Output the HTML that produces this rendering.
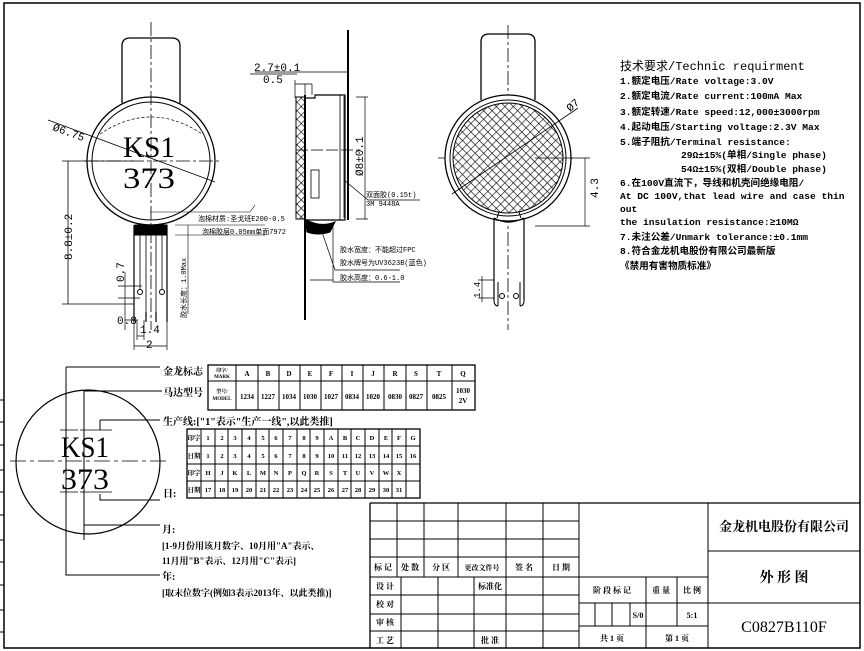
<!DOCTYPE html>
<html><head><meta charset="utf-8"><style>
html,body{margin:0;padding:0;background:#fff}
svg{display:block}
text{font-family:"Liberation Serif","Noto Serif CJK SC","Noto Sans CJK SC",serif;fill:#000}
.m text{font-family:"Liberation Mono","Noto Sans CJK SC",monospace}
.c text,text.c{font-family:"Liberation Serif","Noto Serif CJK SC",serif;font-weight:bold}
.s text{font-family:"Liberation Serif",serif}
</style></head><body>
<svg width="864" height="651" viewBox="0 0 864 651" xmlns="http://www.w3.org/2000/svg">
<defs>
<pattern id="hx" width="6" height="6" patternUnits="userSpaceOnUse" patternTransform="rotate(45)">
<path d="M0 0H6M0 0V6" stroke="#000" stroke-width="1.2"/>
</pattern>
</defs>
<g fill="none" stroke="#000" stroke-width="1">
<path d="M4 3H860V648H4Z" stroke-width="1.5"/>
<path d="M0 400H4M0 422H4M0 445H4M0 470H4M0 492H4M0 515H4M0 540H4M0 562H4M0 585H4M0 610H4M0 632H4"/>

<path d="M151 22V330" stroke-dasharray="14 3 3 3" stroke-width="0.8"/>
<path d="M84 161H222" stroke-dasharray="14 3 3 3" stroke-width="0.8"/>
<path d="M122 103V46Q122 38 130 38H172Q180 38 180 46V103" stroke-width="1.3"/>
<circle cx="151" cy="161" r="64" stroke-width="1.3"/>
<circle cx="151" cy="161" r="59" stroke-width="1"/>
<path d="M100 134Q151 100 202 134" stroke-dasharray="3 2" stroke-width="0.7"/>
<path d="M48 120L215 182" stroke-width="0.8"/>
<path d="M134 225V312M167 225V312" stroke-width="1.2"/>
<rect x="135" y="225" width="32" height="10" fill="#000"/>
<path d="M140 235V290M162 235V290M146 235V318M156 235V318" stroke-width="0.8"/>
<circle cx="140" cy="292" r="2.5"/><circle cx="162" cy="292" r="2.5"/>
<path d="M134 312V322M146 312V322M156 312V322M167 312V322" stroke-width="1.2"/>
<path d="M68 161V304M62 161H134M62 304H134" stroke-width="0.8"/>
<path d="M118 286H142M118 298H140M125 272V330M125 320H138M137 320V340M144 320V340M137 336H144" stroke-width="0.7"/>
<path d="M134 322V350M167 322V350M134 346H167" stroke-width="0.7"/>
<path d="M175 225H265M175 235H265M188 225V314" stroke-width="0.6"/>
<path d="M255 205L250 212H150" stroke-width="0.6"/>

<path d="M305 95V320" stroke-width="2"/>
<path d="M348 30V220" stroke-width="2"/>
<rect x="296" y="97" width="9" height="122" fill="url(#hx)" stroke-width="1"/>
<path d="M305 98H315V95H345V220H305" stroke-width="1.2"/>
<path d="M340 95V220M344 96V218" stroke-width="0.8"/>
<rect x="311" y="170" width="8" height="28" stroke-width="0.8"/>
<path d="M296 150H360" stroke-dasharray="12 3" stroke-width="0.8"/>
<path d="M305 219Q320 228 335 222L330 232Q318 236 307 232Z" fill="#000"/>
<path d="M255 72H348M295 84H312M295 80V98M305 84V95M312 84V95M348 72V95M250 74H297" stroke-width="0.7"/>
<path d="M356 97H368M356 219H368M365 97V219M344 180L368 200H420" stroke-width="0.7"/>
<path d="M322 232L335 270H400M333 226V282M310 280H333M333 282H400" stroke-width="0.7"/>

<path d="M508 25V330" stroke-dasharray="14 3 3 3" stroke-width="0.8"/>
<path d="M438 158H575" stroke-dasharray="14 3 3 3" stroke-width="0.8"/>
<path d="M481 100V42Q481 34 489 34H527Q535 34 535 42V100" stroke-width="1.3"/>
<circle cx="508" cy="158" r="63" stroke-width="1.3" fill="#fff"/>
<circle cx="508" cy="158" r="58" stroke-width="1"/>
<circle cx="508" cy="158" r="55" fill="url(#hx)" stroke-width="1"/>
<path d="M452 194L578 108" stroke-width="0.8"/>
<path d="M494 218V300M524 218V300M494 218Q508 226 524 218" stroke-width="1.2"/>
<path d="M497 218L499 212M521 218L519 212"/>
<path d="M498 282V306M520 282V306M494 300Q494 306 498 306M524 300Q524 306 520 306"/>
<circle cx="502" cy="296" r="2.5"/><circle cx="516" cy="296" r="2.5"/>
<path d="M535 158H590M535 226H590M585 158V226" stroke-width="0.7"/>
<path d="M478 280H494M478 298H494M482 276V302" stroke-width="0.7"/>

<circle cx="88" cy="462" r="72" stroke-width="1.2"/>
<path d="M10 461H168" stroke-dasharray="16 4 4 4" stroke-width="0.8"/>
<path d="M66 367H160M66 367V575H160" stroke-width="1"/>
<path d="M84 391H162M84 391V540M84 525H160" stroke-width="1"/>
<path d="M100 420V430M100 420H160M100 494V500H160" stroke-width="1"/>
<path d="M60 430H78M80 430H98M98 430H112M60 492H78M80 492H98M98 492H112" stroke-width="0.8"/>

<rect x="208" y="365" width="267" height="45" stroke-width="1.3"/>
<path d="M208 381H475"/>
<path d="M236 365V410M258 365V410M279 365V410M300 365V410M321 365V410M342 365V410M363 365V410M384 365V410M406 365V410M427 365V410M452 365V410"/>

<rect x="187" y="429" width="233" height="69" stroke-width="1.3"/>
<path d="M187 446H420M187 464H420M187 481H420"/>
<path d="M201 429V498M215 429V498M228 429V498M242 429V498M256 429V498M269 429V498M283 429V498M297 429V498M310 429V498M324 429V498M338 429V498M351 429V498M365 429V498M379 429V498M392 429V498M406 429V498"/>

<path d="M370 503H860M370 503V648" stroke-width="1.3"/>
<path d="M370 521H579M370 539H579M370 557H579M370 577H708M370 595H579M370 614H579M370 631H579M708 551H860M708 603H860M579 603H708M579 626H708"/>
<path d="M397 503V577M424 503V577M458 503V577M506 503V648M543 503V648M579 503V648M708 503V648" stroke-width="1"/>
<path d="M401 577V648M438 577V648M474 577V648"/>
<path d="M646 577V648M677 577V626M595 603V626M612 603V626M630 603V626"/>
</g>

<g class="s" font-size="30">
<text x="123" y="157" textLength="52" lengthAdjust="spacingAndGlyphs">KS1</text>
<text x="123" y="188" textLength="52" lengthAdjust="spacingAndGlyphs">373</text>
<text x="61" y="457" textLength="48" lengthAdjust="spacingAndGlyphs">KS1</text>
<text x="61" y="489" textLength="48" lengthAdjust="spacingAndGlyphs">373</text>
</g>

<g font-size="11" class="m">
<text x="52" y="130" transform="rotate(20 52 130)">Ø6.75</text>
<text x="72" y="260" transform="rotate(-90 72 260)">8.8±0.2</text>
<text x="124" y="282" transform="rotate(-90 124 282)">0.7</text>
<text x="117" y="324">0.8</text>
<text x="140" y="333">1.4</text>
<text x="146" y="348">2</text>
<text x="254" y="71">2.7±0.1</text>
<text x="263" y="83">0.5</text>
<text x="363" y="176" transform="rotate(-90 363 176)">Ø8±0.1</text>
<text x="570" y="112" transform="rotate(-40 570 112)">Ø7</text>
<text x="598" y="198" transform="rotate(-90 598 198)">4.3</text>
<text x="480" y="298" transform="rotate(-90 480 298)" font-size="9">1.4</text>
</g>
<g font-size="7" class="m">
<text x="198" y="221">泡棉材质:圣戈班E200-0.5</text>
<text x="202" y="234">泡棉胶层0.05mm单面7972</text>
<text x="186" y="318" transform="rotate(-90 186 318)">胶水长度：1.0Max</text>
<text x="366" y="197">双面胶(0.15t)</text>
<text x="366" y="206">3M 9448A</text>
<text x="340" y="252">胶水宽度：不能超过FPC</text>
<text x="340" y="265">胶水牌号为UV3623B(蓝色)</text>
<text x="340" y="280">胶水高度：0.6-1.0</text>
</g>

<g font-size="9.6" class="m" font-weight="bold">
<text x="620" y="70" font-size="12" font-weight="normal">技术要求/Technic requirment</text>
<text x="620" y="84">1.额定电压/Rate voltage:3.0V</text>
<text x="620" y="99">2.额定电流/Rate current:100mA Max</text>
<text x="620" y="115">3.额定转速/Rate speed:12,000±3000rpm</text>
<text x="620" y="130">4.起动电压/Starting voltage:2.3V Max</text>
<text x="620" y="145">5.端子阻抗/Terminal resistance:</text>
<text x="681" y="158">29Ω±15%(单相/Single phase)</text>
<text x="681" y="172">54Ω±15%(双相/Double phase)</text>
<text x="620" y="186">6.在100V直流下，导线和机壳间绝缘电阻/</text>
<text x="620" y="199">At DC 100V,that lead wire and case thin</text>
<text x="620" y="212">out</text>
<text x="620" y="225">the insulation resistance:≥10MΩ</text>
<text x="620" y="240">7.未注公差/Unmark tolerance:±0.1mm</text>
<text x="620" y="254">8.符合金龙机电股份有限公司最新版</text>
<text x="620" y="269">《禁用有害物质标准》</text>
</g>

<g font-size="10" class="c">
<text x="163" y="375">金龙标志</text>
<text x="163" y="396">马达型号</text>
<text x="163" y="425">生产线:["1"表示"生产一线",以此类推]</text>
<text x="163" y="497">日:</text>
<text x="162" y="533">月:</text>
<text x="162" y="549" font-size="9">[1-9月份用该月数字、10月用"A"表示、</text>
<text x="162" y="564" font-size="9">11月用"B"表示、12月用"C"表示]</text>
<text x="162" y="580">年:</text>
<text x="162" y="596" font-size="9">[取末位数字(例如3表示2013年、以此类推)]</text>
</g>
<g font-size="7" class="c" text-anchor="middle">
<text x="222" y="372" font-size="5">印字/</text><text x="222" y="378" font-size="5">MARK</text>
<text x="222" y="393" font-size="5">型号/</text><text x="222" y="400" font-size="5">MODEL</text>
<text x="247" y="376">A</text><text x="268" y="376">B</text><text x="289" y="376">D</text><text x="310" y="376">E</text><text x="331" y="376">F</text><text x="352" y="376">I</text><text x="373" y="376">J</text><text x="395" y="376">R</text><text x="416" y="376">S</text><text x="439" y="376">T</text><text x="463" y="376">Q</text>
<text x="247" y="399" font-weight="normal">1234</text><text x="268" y="399" font-weight="normal">1227</text><text x="289" y="399" font-weight="normal">1034</text><text x="310" y="399" font-weight="normal">1030</text><text x="331" y="399" font-weight="normal">1027</text><text x="352" y="399" font-weight="normal">0834</text><text x="373" y="399" font-weight="normal">1020</text><text x="395" y="399" font-weight="normal">0830</text><text x="416" y="399" font-weight="normal">0827</text><text x="439" y="399" font-weight="normal">0825</text>
<text x="463" y="393">1030</text><text x="463" y="403">2V</text>
</g>
<g font-size="6.5" class="c" text-anchor="middle">
<text x="194" y="440">印字</text><text x="194" y="458">日期</text><text x="194" y="475">印字</text><text x="194" y="492">日期</text>
<text x="208" y="440">1</text><text x="222" y="440">2</text><text x="235" y="440">3</text><text x="249" y="440">4</text><text x="263" y="440">5</text><text x="276" y="440">6</text><text x="290" y="440">7</text><text x="304" y="440">8</text><text x="317" y="440">9</text><text x="331" y="440">A</text><text x="345" y="440">B</text><text x="358" y="440">C</text><text x="372" y="440">D</text><text x="386" y="440">E</text><text x="399" y="440">F</text><text x="413" y="440">G</text>
<text x="208" y="458">1</text><text x="222" y="458">2</text><text x="235" y="458">3</text><text x="249" y="458">4</text><text x="263" y="458">5</text><text x="276" y="458">6</text><text x="290" y="458">7</text><text x="304" y="458">8</text><text x="317" y="458">9</text><text x="331" y="458">10</text><text x="345" y="458">11</text><text x="358" y="458">12</text><text x="372" y="458">13</text><text x="386" y="458">14</text><text x="399" y="458">15</text><text x="413" y="458">16</text>
<text x="208" y="475">H</text><text x="222" y="475">J</text><text x="235" y="475">K</text><text x="249" y="475">L</text><text x="263" y="475">M</text><text x="276" y="475">N</text><text x="290" y="475">P</text><text x="304" y="475">Q</text><text x="317" y="475">R</text><text x="331" y="475">S</text><text x="345" y="475">T</text><text x="358" y="475">U</text><text x="372" y="475">V</text><text x="386" y="475">W</text><text x="399" y="475">X</text>
<text x="208" y="492">17</text><text x="222" y="492">18</text><text x="235" y="492">19</text><text x="249" y="492">20</text><text x="263" y="492">21</text><text x="276" y="492">22</text><text x="290" y="492">23</text><text x="304" y="492">24</text><text x="317" y="492">25</text><text x="331" y="492">26</text><text x="345" y="492">27</text><text x="358" y="492">28</text><text x="372" y="492">29</text><text x="386" y="492">30</text><text x="399" y="492">31</text>
</g>

<g font-size="8" class="c" text-anchor="middle">
<text x="383" y="570">标 记</text><text x="410" y="570">处 数</text><text x="441" y="570">分 区</text><text x="482" y="570" font-size="7">更改文件号</text><text x="524" y="570">签 名</text><text x="561" y="570">日 期</text>
<text x="385" y="589">设 计</text><text x="385" y="607">校 对</text><text x="385" y="625">审 核</text><text x="385" y="643">工 艺</text>
<text x="490" y="589">标准化</text><text x="490" y="643">批 准</text>
<text x="612" y="593">阶 段 标 记</text><text x="661" y="593">重 量</text><text x="692" y="593">比 例</text>
<text x="638" y="618">S/0</text><text x="692" y="618">5:1</text>
<text x="612" y="641">共 1 页</text><text x="677" y="641">第 1 页</text>
</g>
<g class="c" text-anchor="middle">
<text x="784" y="531" font-size="13">金龙机电股份有限公司</text>
<text x="784" y="582" font-size="14">外 形 图</text>
</g>
<g class="s"><text x="784" y="632" font-size="16" text-anchor="middle">C0827B110F</text></g>
</svg>
</body></html>
